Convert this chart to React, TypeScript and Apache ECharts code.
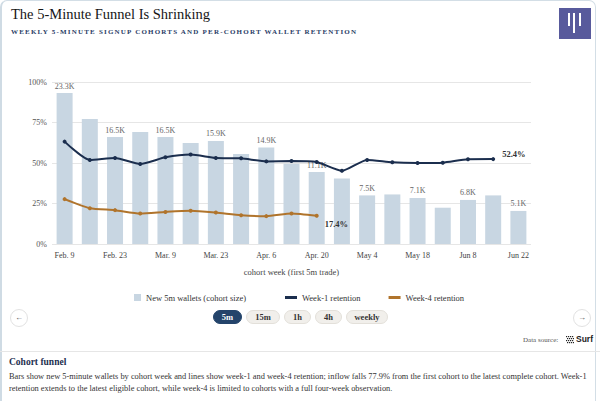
import React, { useEffect, useRef } from "react";
import * as echarts from "echarts";

const categories = [
  "Feb. 9", "Feb. 16", "Feb. 23", "Mar. 2", "Mar. 9", "Mar. 16", "Mar. 23", "Mar. 30",
  "Apr. 6", "Apr. 13", "Apr. 20", "Apr. 27", "May 4", "May 11", "May 18", "May 25",
  "Jun 8", "Jun 15", "Jun 22",
];
const cohortSize = [
  23300, 19300, 16500, 17300, 16500, 15600, 15900, 13900, 14900, 12400, 11100, 10100,
  7500, 7650, 7100, 5600, 6800, 7500, 5100,
];
const week1Retention = [
  63.2, 51.9, 53.1, 49.4, 53.5, 55.2, 53.1, 52.9, 51.0, 51.2, 50.6, 45.2, 51.9, 50.4,
  50.0, 50.2, 52.3, 52.4,
];
const week4Retention = [27.7, 22.1, 20.9, 18.8, 19.8, 20.5, 19.4, 17.8, 17.2, 18.8, 17.4];
const pctTicks = [0, 25, 50, 75, 100];
const timeframes = ["5m", "15m", "1h", "4h", "weekly"];

const SERIF = '"Liberation Serif", "DejaVu Serif", serif';

export default function App() {
  const ref = useRef<HTMLDivElement>(null);

  useEffect(() => {
    document.body.style.margin = "0";
    if (!ref.current) return;
    const chart = echarts.init(ref.current, undefined, { renderer: "svg" });
    const w1Last = week1Retention.length - 1;
    const w4Last = week4Retention.length - 1;
    chart.setOption({
      animation: false,
      textStyle: { fontFamily: SERIF },
      grid: { left: 52, right: 69, top: 82, bottom: 157, containLabel: false },
      legend: [
        {
          data: ["New 5m wallets (cohort size)"],
          left: 129,
          top: 288,
          itemWidth: 7,
          itemHeight: 7,
          icon: "rect",
          textStyle: { fontFamily: SERIF, fontSize: 8.5, color: "#333" },
        },
        {
          data: ["Week-1 retention", "Week-4 retention"],
          left: 280,
          top: 288,
          itemWidth: 12,
          itemHeight: 3,
          itemGap: 28,
          icon: "rect",
          textStyle: { fontFamily: SERIF, fontSize: 8.5, color: "#333" },
        },
      ],
      xAxis: {
        type: "category",
        data: categories,
        axisTick: { show: false },
        axisLine: { show: false },
        axisLabel: {
          interval: 1,
          fontSize: 8,
          color: "#444",
          margin: 7,
          fontFamily: SERIF,
        },
        name: "cohort week (first 5m trade)",
        nameLocation: "middle",
        nameGap: 23,
        nameTextStyle: { fontSize: 8.5, color: "#444", fontFamily: SERIF },
      },
      yAxis: [
        {
          type: "value",
          min: pctTicks[0],
          max: pctTicks[pctTicks.length - 1],
          interval: 25,
          axisLabel: {
            formatter: "{value}%",
            fontSize: 8,
            color: "#555",
            margin: 5,
            fontFamily: SERIF,
          },
          axisLine: { show: false },
          axisTick: { show: false },
          splitLine: { lineStyle: { color: "#e6e6e6", width: 1 } },
        },
        {
          type: "value",
          min: 0,
          max: 25000,
          show: false,
          splitLine: { show: false },
        },
      ],
      series: [
        {
          name: "New 5m wallets (cohort size)",
          type: "bar",
          yAxisIndex: 1,
          data: cohortSize,
          barWidth: 16,
          itemStyle: { color: "#c8d6e2" },
          label: {
            show: true,
            position: "top",
            distance: 3,
            fontSize: 8,
            color: "#666",
            fontFamily: SERIF,
            formatter: (p: any) =>
              p.dataIndex % 2 === 0 ? (p.value / 1000).toFixed(1) + "K" : "",
          },
          z: 1,
        },
        {
          name: "Week-1 retention",
          type: "line",
          data: week1Retention.map((v, i) =>
            i === w1Last
              ? {
                  value: v,
                  label: {
                    show: true,
                    position: "right",
                    distance: 7,
                    offset: [0, -5],
                    formatter: v.toFixed(1) + "%",
                    fontWeight: "bold",
                    fontSize: 8.5,
                    color: "#333",
                    fontFamily: SERIF,
                  },
                }
              : v
          ),
          smooth: 0.2,
          symbol: "circle",
          symbolSize: 4,
          lineStyle: { color: "#1b2e4e", width: 2 },
          itemStyle: { color: "#1b2e4e" },
          z: 3,
        },
        {
          name: "Week-4 retention",
          type: "line",
          data: week4Retention.map((v, i) =>
            i === w4Last
              ? {
                  value: v,
                  label: {
                    show: true,
                    position: "right",
                    distance: 6,
                    offset: [0, 8],
                    formatter: v.toFixed(1) + "%",
                    fontWeight: "bold",
                    fontSize: 8.5,
                    color: "#333",
                    fontFamily: SERIF,
                  },
                }
              : v
          ),
          smooth: 0.2,
          symbol: "circle",
          symbolSize: 4,
          lineStyle: { color: "#b0742c", width: 2 },
          itemStyle: { color: "#b0742c" },
          z: 3,
        },
      ],
    });
    return () => chart.dispose();
  }, []);

  const pillPos = [
    { left: 213, width: 29 },
    { left: 246, width: 34 },
    { left: 284, width: 27 },
    { left: 315, width: 27 },
    { left: 346, width: 42 },
  ];

  return (
    <div
      style={{
        position: "fixed",
        left: 0,
        top: 0,
        width: 600,
        height: 401,
        overflow: "hidden",
        background: "#fff",
        fontFamily: SERIF,
      }}
    >
      <div
        style={{
          position: "absolute",
          left: 0,
          top: 0,
          width: 596,
          height: 440,
          border: "1px solid #d3dee6",
          borderLeft: "2px solid #cfdbe4",
          borderRadius: 7,
          boxSizing: "border-box",
        }}
      />
      <div ref={ref} style={{ position: "absolute", left: 0, top: 0, width: 600, height: 401 }} />
      <div
        style={{
          position: "absolute",
          left: 11,
          top: 5,
          fontSize: 14.5,
          color: "#161616",
          whiteSpace: "nowrap",
          lineHeight: "18px",
        }}
      >
        The 5-Minute Funnel Is Shrinking
      </div>
      <div
        style={{
          position: "absolute",
          left: 11,
          top: 28,
          fontSize: 7,
          fontWeight: "bold",
          letterSpacing: 1.2,
          color: "#2a3d66",
          whiteSpace: "nowrap",
          lineHeight: "9px",
        }}
      >
        WEEKLY 5-MINUTE SIGNUP COHORTS AND PER-COHORT WALLET RETENTION
      </div>
      <div
        style={{
          position: "absolute",
          left: 559,
          top: 8,
          width: 32,
          height: 31,
          background: "#585a9c",
        }}
      >
        <div style={{ position: "absolute", left: 9, top: 5, width: 2, height: 13, background: "#fff" }} />
        <div style={{ position: "absolute", left: 14, top: 5, width: 2, height: 20, background: "#fff" }} />
        <div style={{ position: "absolute", left: 19.5, top: 5, width: 2, height: 13, background: "#fff" }} />
      </div>

      {timeframes.map((t, i) => (
        <div
          key={t}
          style={{
            position: "absolute",
            left: pillPos[i].left,
            top: 310,
            width: pillPos[i].width,
            height: 14,
            borderRadius: 7,
            boxSizing: "border-box",
            background: i === 0 ? "#24446b" : "#f1efeb",
            border: i === 0 ? "1px solid #24446b" : "1px solid #e3e0da",
            color: i === 0 ? "#fff" : "#333",
            fontSize: 8.5,
            fontWeight: "bold",
            textAlign: "center",
            lineHeight: "12px",
          }}
        >
          {t}
        </div>
      ))}

      {[{ left: 10, ch: "\u2190" }, { left: 573, ch: "\u2192" }].map((a) => (
        <div
          key={a.ch}
          style={{
            position: "absolute",
            left: a.left,
            top: 309,
            width: 18,
            height: 18,
            borderRadius: 9,
            border: "1px solid #e2e2e2",
            boxSizing: "border-box",
            background: "#fff",
            fontSize: 8,
            color: "#555",
            textAlign: "center",
            lineHeight: "16px",
          }}
        >
          {a.ch}
        </div>
      ))}

      <div
        style={{
          position: "absolute",
          left: 523,
          top: 335,
          fontSize: 7,
          color: "#555",
          whiteSpace: "nowrap",
          lineHeight: "10px",
        }}
      >
        Data source:
      </div>
      <svg
        style={{ position: "absolute", left: 566, top: 336 }}
        width={8}
        height={8}
        viewBox="0 0 8 8"
      >
        {[0, 2, 4, 6].map((y) =>
          [0, 2, 4, 6].map((x) => (
            <rect key={x + "-" + y} x={x + ((y / 2) % 2)} y={y} width={1.2} height={1.2} fill="#222" />
          ))
        )}
      </svg>
      <div
        style={{
          position: "absolute",
          left: 576,
          top: 334,
          fontSize: 8.5,
          fontWeight: "bold",
          fontFamily: '"Liberation Sans", sans-serif',
          color: "#222",
          lineHeight: "11px",
        }}
      >
        Surf
      </div>

      <div
        style={{
          position: "absolute",
          left: 0,
          top: 351,
          width: 600,
          height: 1,
          background: "#e6e6e6",
        }}
      />
      <div
        style={{
          position: "absolute",
          left: 9,
          top: 356,
          fontSize: 9.5,
          fontWeight: "bold",
          color: "#1d2f4f",
          lineHeight: "13px",
        }}
      >
        Cohort funnel
      </div>
      <div
        style={{
          position: "absolute",
          left: 9,
          top: 371,
          width: 580,
          fontSize: 8.4,
          color: "#333",
          lineHeight: "12px",
        }}
      >
        Bars show new 5-minute wallets by cohort week and lines show week-1 and week-4 retention; inflow
        falls 77.9% from the first cohort to the latest complete cohort. Week-1 retention extends to the
        latest eligible cohort, while week-4 is limited to cohorts with a full four-week observation.
      </div>
    </div>
  );
}
